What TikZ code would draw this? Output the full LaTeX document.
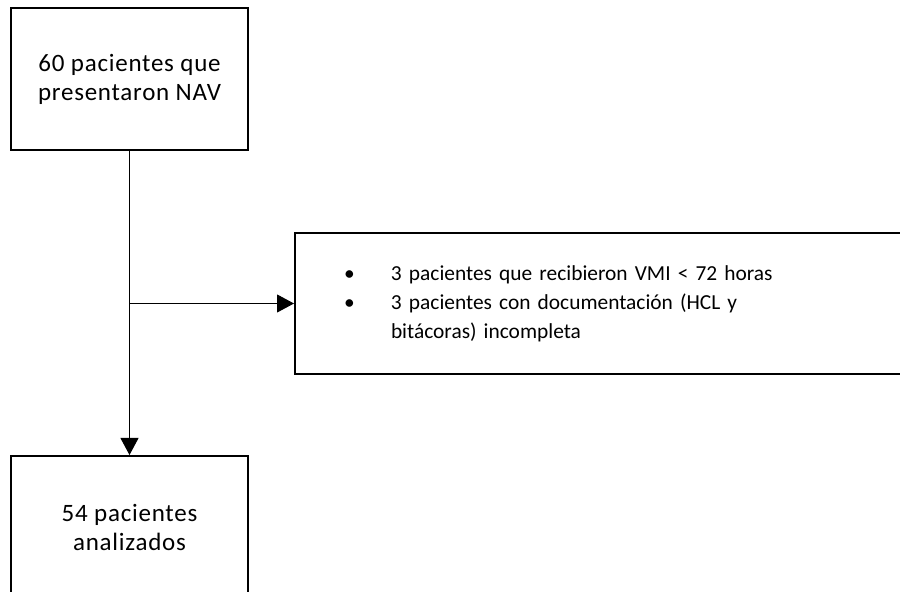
\documentclass[tikz,border=0pt]{standalone}
\usepackage{fontspec}
\setmainfont{Carlito}
\usepackage{tikz}
\usetikzlibrary{arrows.meta,positioning}
\tikzset{caja/.style={rectangle,draw,line width=1pt,align=center,minimum width=118.5pt,minimum height=71pt,font=\addfontfeature{LetterSpace=3}\fontsize{12.5}{14.5}\selectfont}}
\tikzset{lista/.style={rectangle,draw,line width=1pt,align=left,text width=262pt,inner xsep=24.5pt,minimum height=70.5pt,font=\fontsize{10.7}{14.5}\selectfont}}

\begin{document}
\begin{tikzpicture}[x=0.5pt,y=-0.5pt,>={Triangle[length=8.5pt,width=9pt]}]
    \useasboundingbox (0,0) rectangle (900,592);
    \clip (0,0) rectangle (900,592);
    \node[caja] (nav) at (129.5,79) {60 pacientes que\\presentaron NAV};
    \node[caja] (anal) at (129.5,527) {54 pacientes\\analizados};
    \node[lista,anchor=west] (excl) at (294,303.5) {%
      \raisebox{-2.5pt}{\begin{tabular}{@{}p{23.5pt}@{}l@{}}
        \textbullet & 3 pacientes que recibieron VMI < 72 horas\\
        \textbullet & 3 pacientes con documentación (HCL y\\
                    & bitácoras) incompleta
      \end{tabular}}};
    \coordinate (rama) at (nav.south |- excl.west);

    \draw [->,line width=0.5pt] (nav) -- (anal);
    \draw [->,line width=0.5pt] (rama) -- (excl);
\end{tikzpicture}
\end{document}
